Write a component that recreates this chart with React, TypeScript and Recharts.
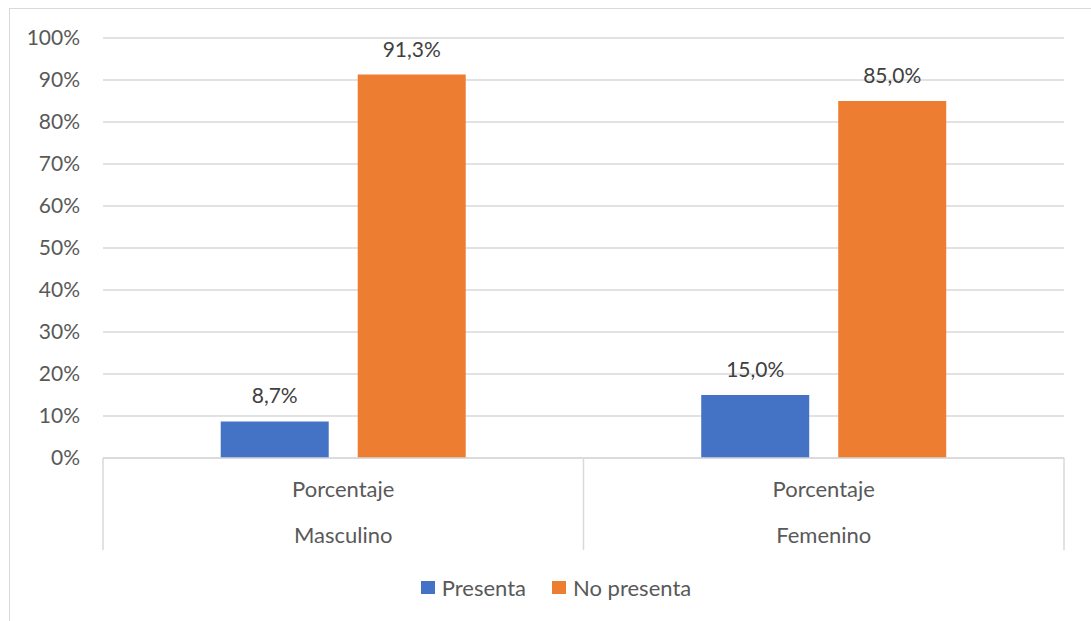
import React from "react";
import { BarChart, Bar, XAxis, YAxis, CartesianGrid, LabelList, Legend } from "recharts";

const categories = ["Masculino", "Femenino"];
const subCategory = "Porcentaje";
const presenta = [8.7, 15.0];
const noPresenta = [91.3, 85.0];
const yTicks = [0, 10, 20, 30, 40, 50, 60, 70, 80, 90, 100];
const seriesNames = ["Presenta", "No presenta"];
const seriesColors = ["#4472C4", "#ED7D31"];

const data = categories.map((c, i) => ({
  name: c,
  sub: subCategory,
  presenta: presenta[i],
  noPresenta: noPresenta[i],
}));

const FONT = "Lato, 'Open Sans', sans-serif";
const GRID = "#d9d9d9";

const fmtPct = (v: number) => `${v.toFixed(1).replace(".", ",")}%`;

const XTick = (props: any) => {
  const { x, y, payload, index, visibleTicksCount } = props;
  const half = payload && payload.offset ? payload.offset : 0;
  const last = index === (visibleTicksCount ?? categories.length) - 1;
  return (
    <g>
      <line x1={x - half} x2={x - half} y1={y} y2={y + 92} stroke={GRID} strokeWidth={1.5} />
      {last && <line x1={x + half} x2={x + half} y1={y} y2={y + 92} stroke={GRID} strokeWidth={1.5} />}
      <text x={x} y={y + 39} textAnchor="middle" fill="#595959" fontSize={22} fontFamily={FONT}>
        {data[index]?.sub ?? subCategory}
      </text>
      <text x={x} y={y + 85} textAnchor="middle" fill="#595959" fontSize={22} fontFamily={FONT}>
        {payload.value}
      </text>
    </g>
  );
};

const LegendContent = () => (
  <div
    style={{
      display: "flex",
      justifyContent: "center",
      alignItems: "center",
      height: 30,
      width: 1091,
      paddingLeft: 21,
      boxSizing: "border-box",
      fontFamily: FONT,
      fontSize: 22,
      color: "#595959",
    }}
  >
    {seriesNames.map((n, i) => (
      <div key={n} style={{ display: "flex", alignItems: "center", marginRight: i === 0 ? 26 : 0 }}>
        <span style={{ width: 14, height: 13, background: seriesColors[i], display: "inline-block", marginRight: 7 }} />
        <span>{n}</span>
      </div>
    ))}
  </div>
);

export default function App() {
  return (
    <div style={{ position: "absolute", left: 0, top: 0, width: 1091, height: 621, background: "#fff", overflow: "hidden" }}>
      <div
        style={{
          position: "absolute",
          left: 9,
          top: 8,
          width: 1200,
          height: 700,
          borderLeft: `1.5px solid ${GRID}`,
          borderTop: `1.5px solid ${GRID}`,
        }}
      />
      <div style={{ position: "absolute", left: 0, top: 0 }}>
        <BarChart
          width={1091}
          height={621}
          data={data}
          margin={{ top: 38, right: 27, left: 43, bottom: 33 }}
          barCategoryGap="24.5%"
          barGap={29}
        >
          <CartesianGrid vertical={false} stroke={GRID} strokeWidth={1.5} />
          <XAxis
            dataKey="name"
            height={100}
            axisLine={{ stroke: GRID, strokeWidth: 1.5 }}
            tickLine={false}
            tickSize={0}
            tickMargin={0}
            interval={0}
            tick={<XTick />}
          />
          <YAxis
            width={60}
            domain={[0, 100]}
            ticks={yTicks}
            axisLine={false}
            tickLine={false}
            tickSize={0}
            tickMargin={23}
            tickFormatter={(v: number) => `${v}%`}
            tick={{ fill: "#595959", fontSize: 21, fontFamily: FONT }}
          />
          <Legend
            content={<LegendContent />}
            wrapperStyle={{ top: 572, left: 0, width: 1091, height: 30 }}
          />
          <Bar dataKey="presenta" name={seriesNames[0]} fill={seriesColors[0]} isAnimationActive={false}>
            <LabelList
              dataKey="presenta"
              position="top"
              offset={18}
              formatter={(v: any) => fmtPct(Number(v))}
              style={{ fill: "#404040", fontSize: 21, fontFamily: FONT }}
            />
          </Bar>
          <Bar dataKey="noPresenta" name={seriesNames[1]} fill={seriesColors[1]} isAnimationActive={false}>
            <LabelList
              dataKey="noPresenta"
              position="top"
              offset={18}
              formatter={(v: any) => fmtPct(Number(v))}
              style={{ fill: "#404040", fontSize: 21, fontFamily: FONT }}
            />
          </Bar>
        </BarChart>
      </div>
    </div>
  );
}
